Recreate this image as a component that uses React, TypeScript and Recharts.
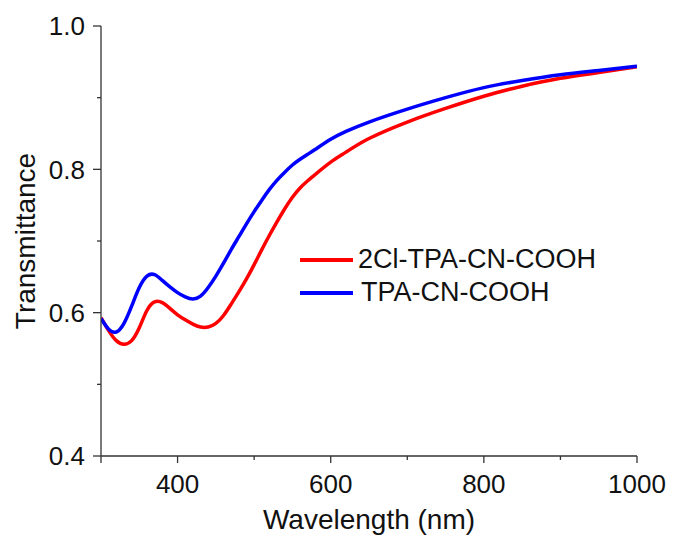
import React from 'react';
import { LineChart, Line, XAxis, YAxis, Legend } from 'recharts';

const wavelengths = [
  300, 310, 320, 330, 340, 350, 360, 370, 380, 390, 400, 410, 420, 430, 440, 450, 460, 470, 480, 490,
  500, 510, 520, 530, 540, 550, 560, 570, 580, 600, 620, 650, 700, 750, 800, 850, 900, 950, 1000,
];

const cl2Values = [
  0.593, 0.575, 0.561, 0.556, 0.561, 0.579, 0.603, 0.615, 0.614, 0.606, 0.597, 0.59, 0.584, 0.58, 0.58,
  0.585, 0.596, 0.612, 0.629, 0.647, 0.667, 0.688, 0.708, 0.727, 0.745, 0.761, 0.774, 0.784, 0.793, 0.81,
  0.824, 0.843, 0.866, 0.885, 0.902, 0.916, 0.927, 0.935, 0.943,
];

const tpaValues = [
  0.592, 0.577, 0.573, 0.585, 0.609, 0.635, 0.651, 0.653, 0.645, 0.636, 0.628, 0.622, 0.619, 0.623, 0.635,
  0.651, 0.669, 0.688, 0.706, 0.724, 0.741, 0.757, 0.772, 0.785, 0.796, 0.806, 0.814, 0.821, 0.828, 0.842,
  0.853, 0.866, 0.884, 0.9, 0.914, 0.924, 0.932, 0.938, 0.944,
];

const seriesNames = ['2Cl-TPA-CN-COOH', 'TPA-CN-COOH'];
const seriesColors = ['#ff0000', '#0000ff'];

const xTicks = [300, 400, 500, 600, 700, 800, 900, 1000];
const xMajor = [400, 600, 800, 1000];
const yTicks = [0.4, 0.5, 0.6, 0.7, 0.8, 0.9, 1.0];
const yMajor = [0.4, 0.6, 0.8, 1.0];

const data = wavelengths.map((w, i) => ({
  w,
  cl2: cl2Values[i],
  tpa: tpaValues[i],
}));

const FONT = '"Liberation Sans", Arial, sans-serif';
const AXIS = '#333333';
const TICK_SIZE = 7;
const X_MARGIN = 12;
const Y_MARGIN = 9;

const XTick = (props: any) => {
  const { x, y, payload } = props;
  const v = payload.value;
  const axisY = y - X_MARGIN - TICK_SIZE;
  const major = xMajor.includes(v);
  return (
    <g>
      <line x1={x} x2={x} y1={axisY} y2={axisY + (major || v === 300 ? 7 : 4)} stroke={AXIS} strokeWidth={1.3} />
      {major && (
        <text x={x} y={y} dy="0.71em" textAnchor="middle" fontSize={26} fontFamily={FONT} fill="#111">
          {v}
        </text>
      )}
    </g>
  );
};

const YTick = (props: any) => {
  const { x, y, payload } = props;
  const v = payload.value;
  const axisX = x + Y_MARGIN + TICK_SIZE;
  const major = yMajor.some((m) => Math.abs(m - v) < 1e-6);
  return (
    <g>
      <line x1={axisX - (major ? 8 : 4)} x2={axisX} y1={y} y2={y} stroke={AXIS} strokeWidth={1.3} />
      {major && (
        <text x={x} y={y} dy="0.355em" textAnchor="end" fontSize={26} fontFamily={FONT} fill="#111">
          {v.toFixed(1)}
        </text>
      )}
    </g>
  );
};

const LegendBox = () => (
  <div style={{ fontFamily: FONT, fontSize: 27, color: '#111', lineHeight: '33px' }}>
    {seriesNames.map((name, i) => (
      <div key={name} style={{ display: 'flex', alignItems: 'center' }}>
        <span
          style={{
            display: 'inline-block',
            width: 53,
            height: 4,
            background: seriesColors[i],
            marginRight: i === 0 ? 5 : 8,
          }}
        />
        <span>{name}</span>
      </div>
    ))}
  </div>
);

export default function App() {
  return (
    <div style={{ position: 'absolute', left: 0, top: 0, width: 673, height: 536, background: '#fff' }}>
      <LineChart width={673} height={536} data={data} margin={{ top: 26, right: 36, bottom: 0, left: 0 }}>
        <XAxis
          dataKey="w"
          type="number"
          domain={[300, 1000]}
          ticks={xTicks}
          interval={0}
          height={80}
          tickSize={TICK_SIZE}
          tickMargin={X_MARGIN}
          tickLine={false}
          tick={<XTick />}
          axisLine={{ stroke: AXIS, strokeWidth: 1.3 }}
          allowDataOverflow
          label={{
            value: 'Wavelength (nm)',
            position: 'insideBottom',
            offset: 7,
            style: { fontSize: 28, fontFamily: FONT, fill: '#111' },
          }}
        />
        <XAxis
          xAxisId="top"
          orientation="top"
          dataKey="w"
          type="number"
          domain={[300, 1000]}
          height={0}
          tick={false}
          tickLine={false}
          axisLine={{ stroke: AXIS, strokeWidth: 1.3 }}
        />
        <YAxis
          type="number"
          domain={[0.4, 1.0]}
          ticks={yTicks}
          interval={0}
          width={101}
          tickSize={TICK_SIZE}
          tickMargin={Y_MARGIN}
          tickLine={false}
          tick={<YTick />}
          axisLine={{ stroke: AXIS, strokeWidth: 1.3 }}
          allowDataOverflow
          label={{
            value: 'Transmittance',
            angle: -90,
            position: 'insideLeft',
            offset: 25,
            style: { fontSize: 28, fontFamily: FONT, fill: '#111', textAnchor: 'middle' },
          }}
        />
        <YAxis
          yAxisId="right"
          orientation="right"
          type="number"
          domain={[0.4, 1.0]}
          width={0}
          tick={false}
          tickLine={false}
          axisLine={{ stroke: AXIS, strokeWidth: 1.3 }}
        />
        <Legend
          layout="vertical"
          align="center"
          verticalAlign="middle"
          content={<LegendBox />}
          wrapperStyle={{ position: 'absolute', left: 300, top: 243, width: 'auto' }}
        />
        <Line
          dataKey="cl2"
          name={seriesNames[0]}
          type="natural"
          stroke={seriesColors[0]}
          strokeWidth={3.5}
          dot={false}
          isAnimationActive={false}
        />
        <Line
          dataKey="tpa"
          name={seriesNames[1]}
          type="natural"
          stroke={seriesColors[1]}
          strokeWidth={3.5}
          dot={false}
          isAnimationActive={false}
        />
      </LineChart>
    </div>
  );
}
